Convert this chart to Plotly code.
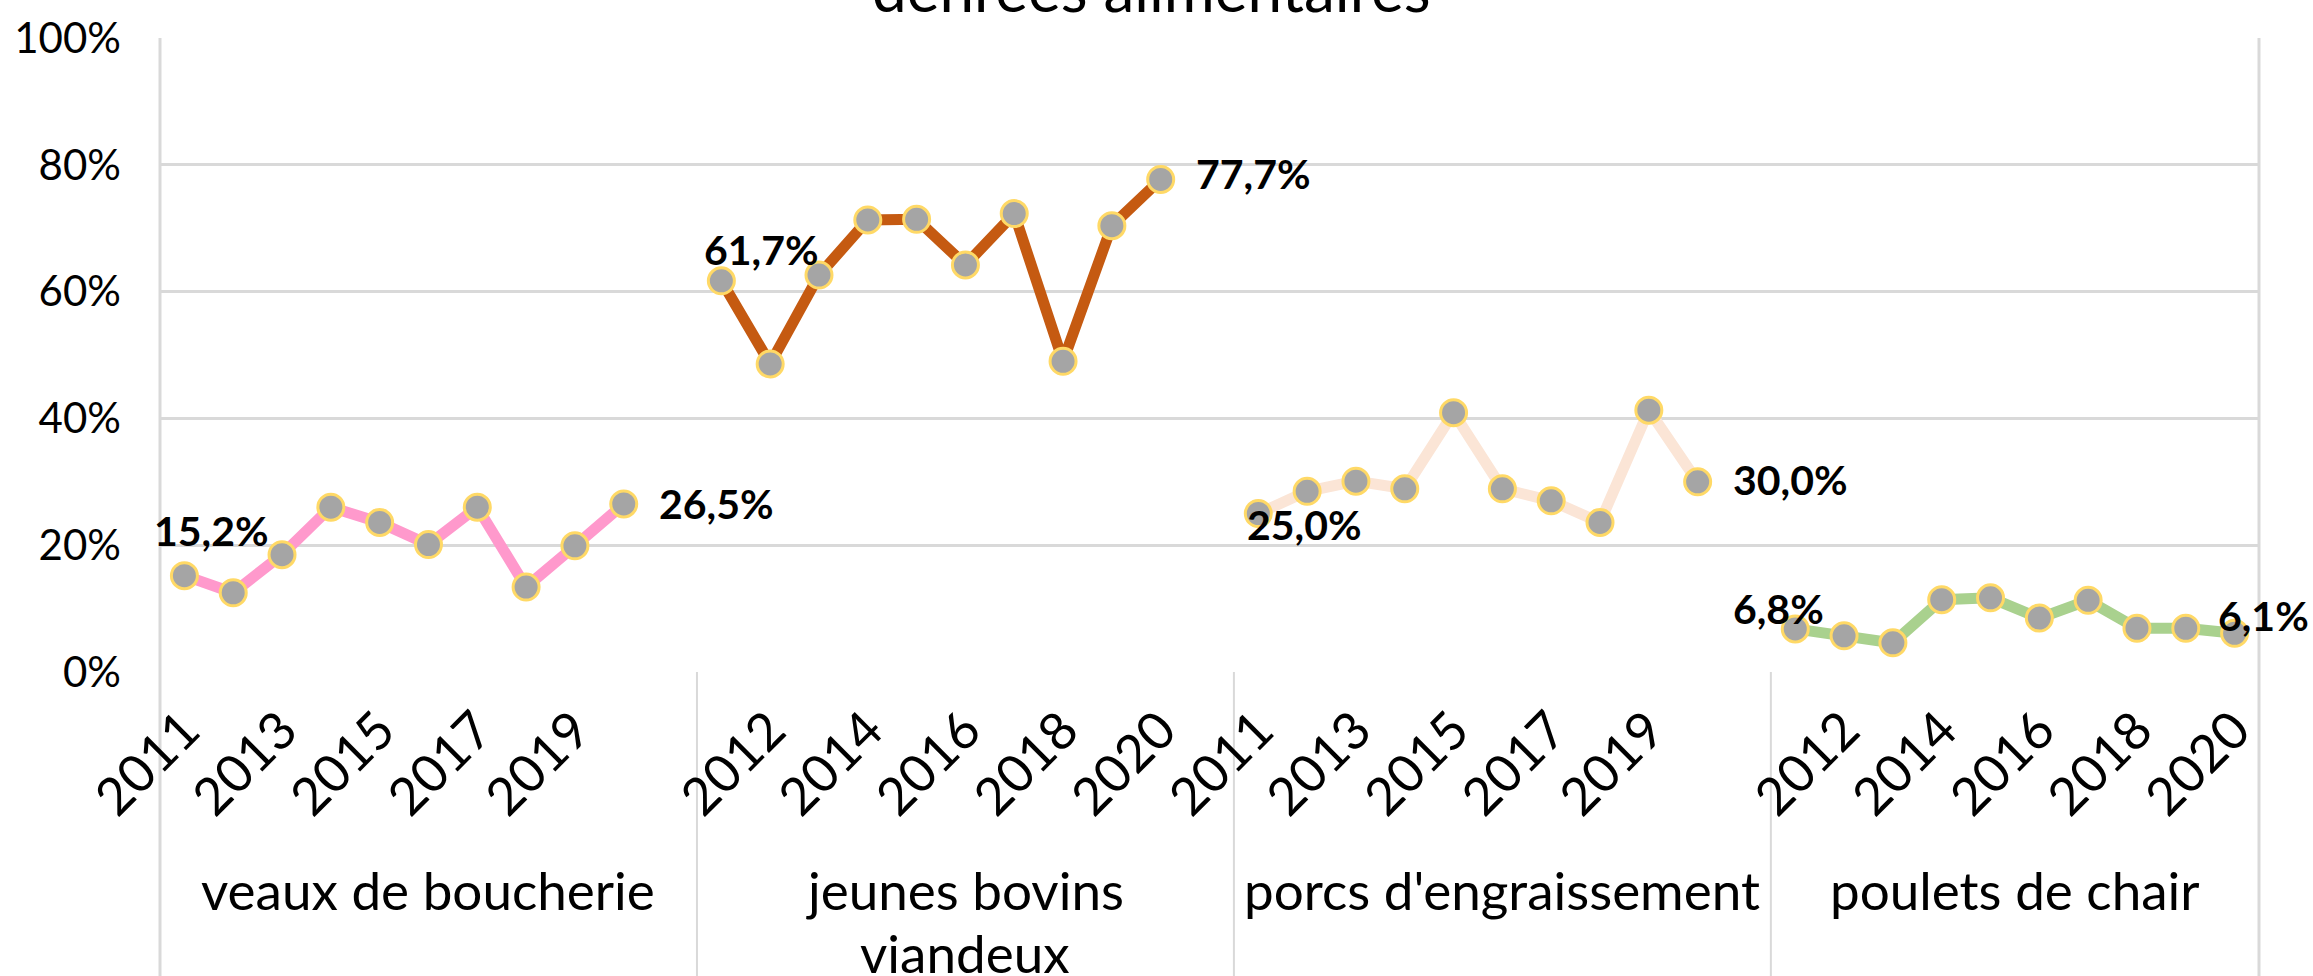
import plotly.graph_objects as go

# ---- data ----
groups = ["veaux de boucherie", "jeunes bovins<br>viandeux", "porcs d'engraissement", "poulets de chair"]
years = [2011, 2012, 2013, 2014, 2015, 2016, 2017, 2018, 2019, 2020]
veaux = [15.2, 12.5, 18.5, 26.0, 23.6, 20.1, 26.0, 13.4, 19.9, 26.5]
bovins = [61.7, 48.6, 62.6, 71.3, 71.4, 64.2, 72.3, 49.0, 70.4, 77.7]
porcs = [25.0, 28.5, 30.1, 28.9, 40.9, 28.9, 27.0, 23.6, 41.3, 30.0]
poulets = [6.8, 5.7, 4.6, 11.4, 11.7, 8.5, 11.3, 6.9, 6.9, 6.1]
y_ticks = [0, 20, 40, 60, 80, 100]
y_ticktext = ["0%", "20%", "40%", "60%", "80%", "100%"]
title_text = "denrées alimentaires"

# ---- style ----
series = [veaux, bovins, porcs, poulets]
colors = ["#FF99CC", "#C55A11", "#FBE5D6", "#A9D18E"]
# label placement for (first, last) point of each series: (xanchor, xshift, yshift)
label_pos = [
    [("center", 27, 45), ("left", 33, 0)],
    [("center", 40, 31), ("left", 33, 6)],
    [("center", 46, -11), ("left", 33, 2)],
    [("center", -17, 20), ("right", 76, 18)],
]
FONT = "Lato"
GRID = "#D9D9D9"
GROUP_LINE_STEP = 63   # px between lines of a wrapped group label

n_per = len(years)
stride = n_per + 1            # one blank category between groups
n_cat = stride * len(groups) - 1

def fmt(v):
    return f"{v:.1f}".replace(".", ",") + "%"

fig = go.Figure()
annotations = []
for g, (vals, col) in enumerate(zip(series, colors)):
    xs = [g * stride + i for i in range(n_per)]
    fig.add_trace(go.Scatter(
        x=xs, y=vals, mode="lines+markers",
        line=dict(color=col, width=11),
        marker=dict(size=26, color="#A5A5A5", line=dict(color="#FFD966", width=3)),
        showlegend=False, hoverinfo="skip", cliponaxis=False,
    ))
    for idx, (xa, xsh, ysh) in zip([0, n_per - 1], label_pos[g]):
        annotations.append(dict(
            x=xs[idx], y=vals[idx], xref="x", yref="y", text=fmt(vals[idx]),
            showarrow=False, xanchor=xa, yanchor="middle", xshift=xsh, yshift=ysh,
            font=dict(family=FONT, size=41, color="#000", weight="bold"),
        ))

# year tick labels: every other category (blank categories skipped)
tickvals, ticktext = [], []
for k in range(0, n_cat, 2):
    g, i = divmod(k, stride)
    if i < n_per:
        tickvals.append(k)
        ticktext.append(str(years[i]))

# group labels and dividers
shapes = []
bounds = [-0.5]
for g in range(len(groups)):
    end = g * stride + n_per - 0.5 + (1 if g < len(groups) - 1 else 0)
    bounds.append(end)
for g, name in enumerate(groups):
    for li, line in enumerate(name.split("<br>")):
        annotations.append(dict(
            x=(bounds[g] + bounds[g + 1]) / 2, y=-0.29, xref="x", yref="paper",
            text=line, showarrow=False, xanchor="center", yanchor="top",
            yshift=-GROUP_LINE_STEP * li,
            font=dict(family=FONT, size=53, color="#000"),
        ))
for j, b in enumerate(bounds):
    px = (b + 0.5) / n_cat
    outer = j in (0, len(bounds) - 1)
    shapes.append(dict(
        type="line", xref="paper", yref="paper", x0=px, x1=px,
        y0=1 if outer else 0, y1=-0.6,
        line=dict(color=GRID, width=3 if outer else 2), layer="below",
    ))

annotations.append(dict(
    x=0.4726, y=1, xref="paper", yref="paper", text=title_text, showarrow=False,
    xanchor="center", yanchor="bottom", yshift=11,
    font=dict(family=FONT, size=62, color="#000"),
))

fig.update_layout(
    width=2313, height=976,
    margin=dict(l=160, r=54, t=30, b=304),
    paper_bgcolor="white", plot_bgcolor="white",
    font=dict(family=FONT, color="#000"),
    annotations=annotations, shapes=shapes,
    xaxis=dict(
        range=[-0.5, n_cat - 0.5], tickmode="array", tickvals=tickvals, ticktext=ticktext,
        tickangle=-45, showgrid=False, zeroline=False, showline=False, ticks="",
        tickfont=dict(family=FONT, size=52, color="#000"), ticklabelstandoff=16,
    ),
    yaxis=dict(
        range=[0, 100], tickmode="array", tickvals=y_ticks, ticktext=y_ticktext,
        showgrid=True, gridcolor=GRID, gridwidth=3, zeroline=False, showline=False,
        ticks="", tickfont=dict(family=FONT, size=42, color="#000"), ticklabelstandoff=38,
    ),
)

fig.write_html("out.html", config={"displayModeBar": False},
               post_script="document.body.style.margin='0';")
